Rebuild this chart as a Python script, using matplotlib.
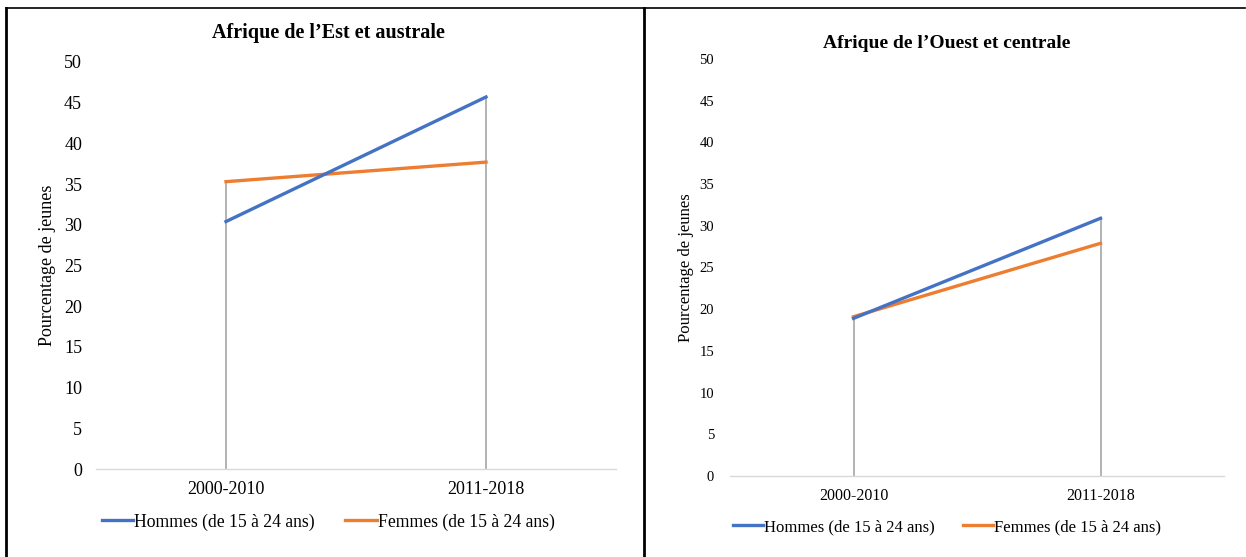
import matplotlib.pyplot as plt
from matplotlib.lines import Line2D

periodes = ['2000-2010', '2011-2018']
hommes_est = [30.4, 45.7]
femmes_est = [35.3, 37.7]
hommes_ouest = [18.9, 30.9]
femmes_ouest = [19.1, 27.9]
yticks = list(range(0, 55, 5))

plt.rcParams['font.family'] = ['Liberation Serif', 'DejaVu Serif']

W, H = 1246, 557
fig = plt.figure(figsize=(W / 100, H / 100), dpi=100)

blue = '#4472C4'
orange = '#ED7D31'


def panel(px_left, px_right, px_y0, px_y50, hommes, femmes, titre, cell_x, title_y,
          fs_title, fs_x, fs_y, fs_lab, fs_leg, pad_y, ylab_x, leg_y):
    ax = fig.add_axes([px_left / W, 1 - px_y0 / H,
                       (px_right - px_left) / W, (px_y0 - px_y50) / H])
    x = range(len(periodes))
    for i in x:
        ax.plot([i, i], [0, max(hommes[i], femmes[i])], color='#A6A6A6', lw=1.2, zorder=1)
    l1, = ax.plot(x, hommes, color=blue, lw=2.4, zorder=3)
    l2, = ax.plot(x, femmes, color=orange, lw=2.4, zorder=2)
    ax.set_xlim(-0.5, 1.5)
    ax.set_ylim(0, 50)
    ax.set_yticks(yticks)
    ax.set_xticks(list(x))
    ax.set_xticklabels(periodes, fontsize=fs_x)
    ax.tick_params(axis='y', labelsize=fs_y, length=0, pad=pad_y)
    ax.tick_params(axis='x', length=0, pad=9)
    for s in ['top', 'right', 'left']:
        ax.spines[s].set_visible(False)
    ax.spines['bottom'].set_color('#D9D9D9')
    ax.spines['bottom'].set_linewidth(1)
    fig.text(cell_x / W, 1 - title_y / H, titre,
             ha='center', va='center', fontsize=fs_title, fontweight='bold')
    fig.text(ylab_x / W, 1 - ((px_y0 + px_y50) / 2) / H, 'Pourcentage de jeunes',
             rotation=90, ha='center', va='center', fontsize=fs_lab)
    fig.legend([l1, l2], ['Hommes (de 15 à 24 ans)', 'Femmes (de 15 à 24 ans)'],
               loc='center', bbox_to_anchor=(cell_x / W, 1 - leg_y / H), ncol=2,
               frameon=False, fontsize=fs_leg, handlelength=1.8, handletextpad=0.05,
               columnspacing=1.7)
    return ax


panel(96, 616, 469, 62, hommes_est, femmes_est, 'Afrique de l’Est et australe',
      328, 33, 14.5, 13, 13, 13, 12.7, 10, 48, 522)
panel(730, 1224, 476, 59, hommes_ouest, femmes_ouest, 'Afrique de l’Ouest et centrale',
      947, 44, 14, 11.5, 10.5, 12, 12, 11.5, 686, 527)

# cadre du tableau
fig.add_artist(Line2D([6 / W, 1 - 1 / W], [1 - 8 / H, 1 - 8 / H], color='black', lw=1.2))
fig.add_artist(Line2D([6 / W, 6 / W], [0, 1 - 8 / H], color='black', lw=2))
fig.add_artist(Line2D([644 / W, 644 / W], [0, 1 - 8 / H], color='black', lw=2))

fig.savefig('out.png', dpi=100)
